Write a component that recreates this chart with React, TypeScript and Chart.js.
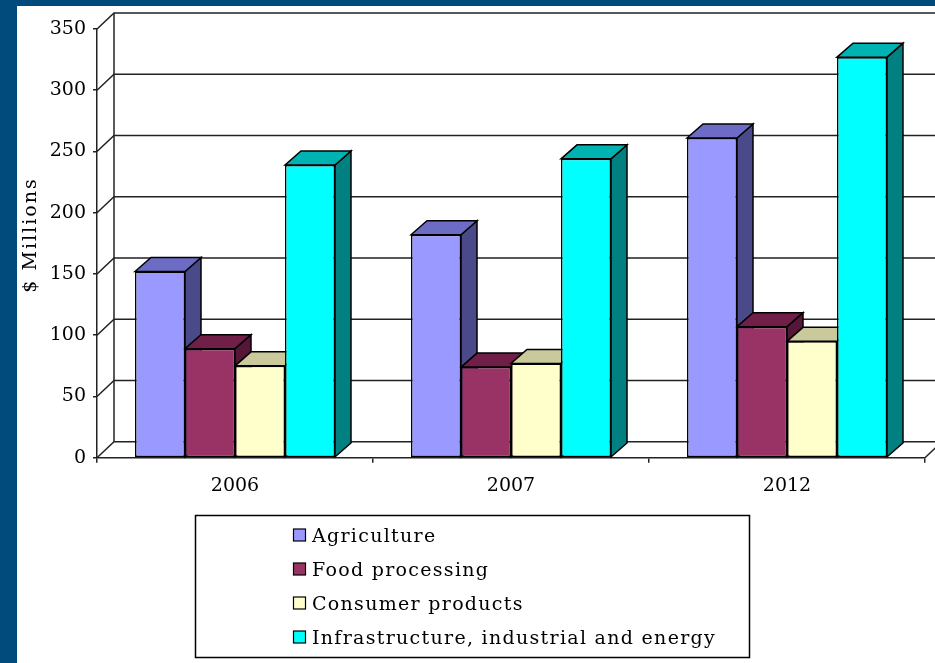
import { useEffect, useRef } from 'react';
import { Chart, registerables } from 'chart.js';

Chart.register(...registerables);

// ---- data ----
const categories = ['2006', '2007', '2012'];
const seriesNames = [
  'Agriculture',
  'Food processing',
  'Consumer products',
  'Infrastructure, industrial and energy',
];
const agriculture = [152, 182, 261];
const foodProcessing = [89, 74, 107];
const consumerProducts = [75, 77, 95];
const infrastructure = [239, 244, 327];
const yTicks = [0, 50, 100, 150, 200, 250, 300, 350];
const axisTitle = '$ Millions';

// ---- styles ----
const FRONT = ['#9999FF', '#993366', '#FFFFCC', '#00FFFF'];
const TOP = ['#6C6CC6', '#701F49', '#C9C99B', '#00B3B3'];
const SIDE = ['#4A4A8A', '#561638', '#A3A37C', '#008080'];
const FONT = 'DejaVu Serif';
const LINE = '#222222';
const DX = 16, DY = -14; // bar depth
const WX = 17, WY = -16; // wall depth

function poly(ctx: CanvasRenderingContext2D, pts: number[][], fill: string) {
  ctx.beginPath();
  ctx.moveTo(pts[0][0], pts[0][1]);
  for (let i = 1; i < pts.length; i++) ctx.lineTo(pts[i][0], pts[i][1]);
  ctx.closePath();
  ctx.fillStyle = fill;
  ctx.fill();
  ctx.stroke();
}

const depthPlugin = {
  id: 'depth3d',
  beforeDatasetsDraw(chart: any) {
    const { ctx, chartArea: a, scales } = chart;
    const ys = scales.y;
    ctx.save();
    ctx.strokeStyle = LINE;
    ctx.lineWidth = 1.5;
    // back wall gridlines and side wall diagonals
    yTicks.forEach((v) => {
      const py = ys.getPixelForValue(v);
      ctx.beginPath();
      ctx.moveTo(a.left, py);
      ctx.lineTo(a.left + WX, py + WY);
      ctx.lineTo(a.right + WX, py + WY);
      ctx.stroke();
    });
    ctx.beginPath();
    ctx.moveTo(a.left + WX, ys.getPixelForValue(yTicks[yTicks.length - 1]) + WY);
    ctx.lineTo(a.left + WX, ys.getPixelForValue(0) + WY);
    ctx.stroke();
    // floor right diagonal
    ctx.beginPath();
    ctx.moveTo(a.right, a.bottom);
    ctx.lineTo(a.right + WX, a.bottom + WY);
    ctx.stroke();

    // bar top and side faces, left to right
    const bars: { el: any; di: number }[] = [];
    chart.data.datasets.forEach((_: any, di: number) => {
      const meta = chart.getDatasetMeta(di);
      meta.data.forEach((el: any) => bars.push({ el, di }));
    });
    bars.sort((p, q) => p.el.x - q.el.x);
    ctx.strokeStyle = '#000';
    ctx.lineWidth = 1.5;
    ctx.lineJoin = 'miter';
    bars.forEach(({ el, di }) => {
      const { x, y, base, width } = el.getProps(['x', 'y', 'base', 'width'], true);
      const l = x - width / 2;
      const r = x + width / 2;
      poly(ctx, [[r, y], [r + DX, y + DY], [r + DX, base + DY], [r, base]], SIDE[di]);
      poly(ctx, [[l, y], [l + DX, y + DY], [r + DX, y + DY], [r, y]], TOP[di]);
    });
    ctx.restore();
  },
  afterDraw(chart: any) {
    const { ctx } = chart;
    ctx.save();
    // axis title
    ctx.fillStyle = '#000';
    ctx.font = `19px "${FONT}"`;
    (ctx as any).letterSpacing = '2px';
    ctx.translate(14, 229);
    ctx.rotate(-Math.PI / 2);
    ctx.textAlign = 'center';
    ctx.textBaseline = 'middle';
    ctx.fillText(axisTitle, 0, 0);
    ctx.restore();

    // legend
    ctx.save();
    ctx.strokeStyle = '#000';
    ctx.lineWidth = 1.5;
    ctx.strokeRect(178.5, 509.5, 554, 142);
    ctx.font = `19px "${FONT}"`;
    (ctx as any).letterSpacing = '1.3px';
    ctx.textAlign = 'left';
    ctx.textBaseline = 'alphabetic';
    chart.data.datasets.forEach((ds: any, i: number) => {
      const cy = 529 + i * 34;
      ctx.fillStyle = ds.backgroundColor;
      ctx.fillRect(276.5, cy - 6, 12, 12);
      ctx.lineWidth = 1.2;
      ctx.strokeRect(276.5, cy - 6, 12, 12);
      ctx.fillStyle = '#000';
      ctx.fillText(ds.label, 295, cy + 7);
    });
    ctx.restore();
  },
};

export default function App() {
  const ref = useRef<HTMLCanvasElement>(null);
  useEffect(() => {
    const series = [agriculture, foodProcessing, consumerProducts, infrastructure];
    const chart = new Chart(ref.current as HTMLCanvasElement, {
      type: 'bar',
      data: {
        labels: categories,
        datasets: series.map((d, i) => ({
          label: seriesNames[i],
          data: d,
          backgroundColor: FRONT[i],
          borderColor: '#000',
          borderWidth: 1.5,
          borderSkipped: false,
          categoryPercentage: 0.7246,
          barPercentage: 1,
        })),
      },
      options: {
        responsive: false,
        animation: false,
        events: [],
        layout: { padding: { top: 23, right: 10, bottom: 165.3, left: 0 } },
        plugins: {
          legend: { display: false },
          tooltip: { enabled: false },
        },
        scales: {
          x: {
            offset: true,
            grid: {
              display: true,
              offset: true,
              drawOnChartArea: false,
              tickLength: 5,
              color: LINE,
              lineWidth: 1.5,
            },
            border: { display: true, color: LINE, width: 1.5 },
            ticks: {
              color: '#000',
              font: { family: FONT, size: 19 },
              padding: 12,
              maxRotation: 0,
            },
            afterFit: (s: any) => {
              s.height = 40;
            },
          },
          y: {
            min: 0,
            max: 350,
            ticks: {
              stepSize: 50,
              color: '#000',
              font: { family: FONT, size: 19 },
              padding: 7,
            },
            grid: {
              display: true,
              drawOnChartArea: false,
              tickLength: 4,
              color: LINE,
              lineWidth: 1.5,
            },
            border: { display: true, color: LINE, width: 1.5 },
            afterFit: (s: any) => {
              s.width = 80;
            },
          },
        },
      },
      plugins: [depthPlugin],
    } as any);
    return () => chart.destroy();
  }, []);

  return (
    <div
      style={{
        position: 'fixed',
        left: 0,
        top: 0,
        width: 935,
        height: 663,
        background: '#004A7C',
        overflow: 'hidden',
      }}
    >
      <canvas
        ref={ref}
        width={918}
        height={657}
        style={{
          position: 'absolute',
          left: 17,
          top: 6,
          width: 918,
          height: 657,
          background: '#ffffff',
          display: 'block',
        }}
      />
    </div>
  );
}
